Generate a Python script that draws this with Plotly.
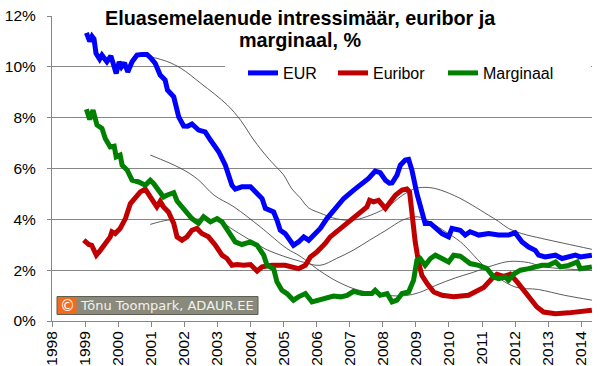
import plotly.graph_objects as go

# ---------------- data ----------------
eur_t = [1999.04, 1999.14, 1999.21, 1999.27, 1999.33, 1999.44, 1999.51, 1999.66, 1999.78, 1999.86,
         1999.94, 2000.03, 2000.10, 2000.19, 2000.29, 2000.42, 2000.57, 2000.72, 2000.87, 2000.97,
         2001.12, 2001.27, 2001.42, 2001.49, 2001.68, 2001.83, 2001.98, 2002.10, 2002.23, 2002.43,
         2002.63, 2002.79, 2003.04, 2003.24, 2003.34, 2003.44, 2003.54, 2003.74, 2004.00, 2004.15,
         2004.35, 2004.45, 2004.70, 2004.80, 2004.90, 2005.05, 2005.20, 2005.30, 2005.45, 2005.61,
         2005.76, 2005.91, 2006.11, 2006.31, 2006.56, 2006.82, 2007.12, 2007.32, 2007.57, 2007.77,
         2007.92, 2008.08, 2008.20, 2008.28, 2008.43, 2008.53, 2008.68, 2008.78, 2008.88, 2009.03,
         2009.18, 2009.28, 2009.44, 2009.59, 2009.79, 2009.99, 2010.09, 2010.34, 2010.49, 2010.64,
         2010.90, 2011.20, 2011.50, 2011.80, 2012.00, 2012.21, 2012.41, 2012.61, 2012.71, 2012.91,
         2013.22, 2013.42, 2013.62, 2013.82, 2013.97, 2014.17, 2014.32]
eur_v = [11.34, 11.00, 11.20, 11.10, 10.53, 10.30, 10.46, 10.20, 10.43, 10.14,
         9.74, 10.20, 10.00, 10.16, 9.80, 10.20, 10.46, 10.49, 10.49, 10.37,
         10.14, 9.68, 9.48, 9.09, 8.82, 8.03, 7.67, 7.66, 7.75, 7.51,
         7.44, 7.12, 6.66, 6.13, 5.70, 5.34, 5.19, 5.28, 5.28, 5.08,
         4.82, 4.43, 4.29, 3.97, 3.57, 3.44, 3.18, 2.98, 3.11, 3.31,
         3.18, 3.38, 3.64, 4.03, 4.43, 4.82, 5.15, 5.34, 5.61, 5.90,
         5.84, 5.54, 5.42, 5.43, 5.74, 6.13, 6.33, 6.36, 5.94, 5.02,
         4.23, 3.84, 3.84, 3.64, 3.44, 3.31, 3.64, 3.57, 3.38, 3.51,
         3.38, 3.44, 3.38, 3.38, 3.47, 3.11, 2.91, 2.78, 2.59, 2.52,
         2.59, 2.46, 2.52, 2.59, 2.52, 2.55, 2.59]

euribor_t = [1998.96, 1999.11, 1999.20, 1999.34, 1999.46, 1999.61, 1999.76, 1999.81, 1999.91, 2000.06,
             2000.22, 2000.37, 2000.52, 2000.67, 2000.82, 2000.92, 2001.07, 2001.17, 2001.27, 2001.37,
             2001.52, 2001.68, 2001.78, 2001.93, 2002.08, 2002.23, 2002.38, 2002.53, 2002.73, 2002.94,
             2003.14, 2003.29, 2003.44, 2003.59, 2003.79, 2004.00, 2004.20, 2004.35, 2004.65, 2005.05,
             2005.45, 2005.66, 2005.81, 2006.01, 2006.16, 2006.26, 2006.41, 2006.72, 2007.02, 2007.32,
             2007.52, 2007.60, 2007.72, 2007.87, 2008.08, 2008.23, 2008.38, 2008.58, 2008.73, 2008.81,
             2008.88, 2008.98, 2009.08, 2009.18, 2009.34, 2009.54, 2009.79, 2010.14, 2010.59, 2010.85,
             2011.05, 2011.30, 2011.45, 2011.65, 2011.85, 2012.06, 2012.26, 2012.46, 2012.66, 2012.86,
             2013.22, 2013.62, 2014.02, 2014.32]
euribor_v = [3.18, 3.01, 2.98, 2.59, 2.78, 3.05, 3.31, 3.51, 3.44, 3.64,
             4.03, 4.62, 4.88, 5.08, 5.19, 4.95, 4.69, 4.49, 4.71, 4.49,
             4.29, 3.84, 3.31, 3.18, 3.31, 3.57, 3.64, 3.44, 3.31, 2.98,
             2.59, 2.46, 2.19, 2.22, 2.19, 2.22, 1.96, 2.13, 2.19, 2.19,
             2.06, 2.19, 2.52, 2.72, 2.90, 3.05, 3.31, 3.64, 3.97, 4.23,
             4.49, 4.75, 4.69, 4.75, 4.43, 4.69, 4.95, 5.15, 5.19, 5.08,
             4.16, 3.11, 2.32, 1.80, 1.47, 1.14, 1.01, 0.95, 1.01, 1.21,
             1.32, 1.67, 1.84, 1.76, 1.84, 1.54, 1.21, 0.95, 0.55, 0.35,
             0.29, 0.32, 0.35, 0.42]

marg_t = [1999.04, 1999.14, 1999.24, 1999.36, 1999.51, 1999.61, 1999.76, 1999.88, 1999.94, 2000.06,
          2000.12, 2000.27, 2000.42, 2000.62, 2000.82, 2000.97, 2001.07, 2001.27, 2001.37, 2001.47,
          2001.68, 2001.78, 2001.93, 2002.08, 2002.23, 2002.43, 2002.58, 2002.79, 2002.99, 2003.14,
          2003.34, 2003.54, 2003.74, 2004.00, 2004.20, 2004.40, 2004.50, 2004.70, 2004.80, 2004.95,
          2005.10, 2005.30, 2005.45, 2005.66, 2005.86, 2006.06, 2006.31, 2006.51, 2006.72, 2006.92,
          2007.12, 2007.37, 2007.67, 2007.77, 2007.92, 2008.13, 2008.28, 2008.43, 2008.58, 2008.78,
          2008.93, 2009.03, 2009.13, 2009.28, 2009.44, 2009.59, 2009.79, 2009.99, 2010.14, 2010.34,
          2010.44, 2010.64, 2010.90, 2011.15, 2011.35, 2011.50, 2011.70, 2011.80, 2011.95, 2012.16,
          2012.41, 2012.61, 2012.81, 2013.01, 2013.22, 2013.37, 2013.62, 2013.88, 2013.97, 2014.32]
marg_v = [8.33, 7.93, 8.30, 7.71, 7.58, 7.18, 6.85, 6.88, 6.46, 6.53,
          6.13, 5.94, 5.54, 5.47, 5.34, 5.54, 5.41, 5.10, 4.88, 4.95,
          5.05, 4.72, 4.49, 4.29, 4.03, 3.84, 4.10, 3.90, 4.03, 3.90,
          3.51, 3.11, 3.01, 3.11, 2.98, 2.59, 2.19, 2.06, 1.54, 1.21,
          1.08, 0.82, 0.95, 1.08, 0.75, 0.82, 0.88, 0.98, 0.95, 1.01,
          1.17, 1.08, 1.08, 1.21, 1.01, 1.08, 0.75, 0.82, 1.08, 1.14,
          1.60, 2.39, 2.46, 2.19, 2.46, 2.59, 2.46, 2.32, 2.59, 2.55,
          2.46, 2.26, 2.19, 2.06, 1.73, 1.67, 1.73, 1.60, 1.84, 2.00,
          2.06, 2.13, 2.19, 2.19, 2.32, 2.13, 2.19, 2.32, 2.06, 2.13]

# thin trend lines (moving averages as drawn in the picture)
eur_ma_t = [2000.97, 2001.5, 2001.9, 2002.5, 2003.3, 2003.7, 2004.1, 2004.5, 2004.75, 2005.0, 2005.25,
            2005.5, 2005.76, 2006.1, 2006.6, 2007.1, 2007.5, 2008.1, 2008.6, 2009.0, 2009.4, 2009.75,
            2010.3, 2010.7, 2011.2, 2011.5, 2011.8, 2012.2, 2012.8, 2013.5, 2014.32]
eur_ma_v = [10.40, 10.20, 9.94, 9.35, 8.50, 7.90, 7.12, 6.46, 6.10, 5.75, 5.20,
            4.85, 4.45, 4.25, 4.02, 3.97, 4.10, 4.45, 4.95, 5.22, 5.25, 5.15,
            4.85, 4.56, 4.16, 3.92, 3.64, 3.44, 3.25, 3.05, 2.82]

marg_ma_t = [2000.97, 2001.9, 2002.4, 2002.9, 2003.5, 2004.3, 2005.1, 2005.5, 2006.0, 2006.5,
             2007.1, 2007.6, 2008.1, 2008.7, 2009.1, 2009.6, 2010.2, 2010.7, 2011.2, 2011.7,
             2011.95, 2012.4, 2012.8, 2013.5, 2014.32]
marg_ma_v = [6.53, 6.00, 5.58, 4.95, 4.49, 3.70, 2.85, 2.55, 2.06, 1.64,
             1.28, 1.12, 1.01, 1.00, 1.12, 1.40, 1.70, 1.90, 2.13, 2.32,
             2.35, 2.30, 2.15, 2.05, 2.00]

euribor_ma_t = [2000.97, 2001.5, 2002.1, 2002.7, 2003.1, 2003.5, 2004.1, 2004.5, 2005.0, 2005.5,
                2006.1, 2006.6, 2007.1, 2007.6, 2008.1, 2008.6, 2009.0, 2009.25, 2009.5, 2009.9,
                2010.35, 2011.2, 2012.0, 2012.7, 2013.5, 2014.32]
euribor_ma_v = [3.80, 3.97, 4.00, 4.00, 3.90, 3.57, 3.10, 2.80, 2.55, 2.35,
                2.19, 2.46, 2.78, 3.18, 3.57, 3.97, 4.10, 4.03, 3.84, 3.51,
                3.11, 2.00, 1.34, 1.24, 1.01, 0.82]

year_ticks = list(range(1998, 2015))
year_labels = [str(y) for y in year_ticks]
pct_ticks = [0, 2, 4, 6, 8, 10, 12]
pct_labels = [f"{v}%" for v in pct_ticks]

# ---------------- layout geometry ----------------
W, H = 600, 366
ML, MR, MT, MB = 52, 8, 16, 45
PW, PH = W - ML - MR, H - MT - MB


def px_x(px):
    return (px - ML) / PW


def px_y(py):
    return (H - MB - py) / PH


FONT = "Liberation Sans, Arial, sans-serif"
GRID = "#868686"

fig = go.Figure()

for t, v in [(eur_ma_t, eur_ma_v), (euribor_ma_t, euribor_ma_v), (marg_ma_t, marg_ma_v)]:
    fig.add_trace(go.Scatter(x=t, y=v, mode="lines", showlegend=False, hoverinfo="skip",
                             line=dict(color="#4a4a4a", width=0.9, shape="spline", smoothing=1.0)))

fig.add_trace(go.Scatter(x=euribor_t, y=euribor_v, mode="lines", name="Euribor", legend="legend2",
                         line=dict(color="#C00000", width=5)))
fig.add_trace(go.Scatter(x=marg_t, y=marg_v, mode="lines", name="Marginaal", legend="legend3",
                         line=dict(color="#008000", width=5)))
fig.add_trace(go.Scatter(x=eur_t, y=eur_v, mode="lines", name="EUR", legend="legend",
                         line=dict(color="#0000FF", width=5)))

leg_common = dict(orientation="h", xanchor="left", yanchor="middle", bgcolor="rgba(0,0,0,0)",
                  font=dict(family=FONT, size=16, color="#000"), itemwidth=30)

fig.update_layout(
    width=W, height=H,
    margin=dict(l=ML, r=MR, t=MT, b=MB, autoexpand=False),
    paper_bgcolor="white", plot_bgcolor="white",
    font=dict(family=FONT, color="#000"),
    legend=dict(x=px_x(243), y=px_y(73), **leg_common),
    legend2=dict(x=px_x(333), y=px_y(73), **leg_common),
    legend3=dict(x=px_x(443), y=px_y(73), **leg_common),
    xaxis=dict(range=[1998, 1998 + PW / 33.08], tickmode="array", tickvals=year_ticks,
               ticktext=year_labels, tickangle=-90, showgrid=False, zeroline=False,
               showline=True, linecolor=GRID, linewidth=1, ticks="outside", ticklen=5,
               tickcolor=GRID, automargin=False, ticklabelstandoff=-2,
               tickfont=dict(family=FONT, size=15.5, color="#000")),
    yaxis=dict(range=[0, 12], tickmode="array", tickvals=pct_ticks, ticktext=pct_labels,
               showgrid=True, gridcolor=GRID, gridwidth=1, zeroline=False,
               showline=True, linecolor=GRID, linewidth=1, ticks="outside", ticklen=4,
               tickcolor=GRID, ticklabelstandoff=8, automargin=False,
               tickfont=dict(family=FONT, size=15.5, color="#000")),
    showlegend=True,
)

# white box behind legend (hides the 10% gridline like the reference)
fig.add_shape(type="rect", xref="paper", yref="paper", x0=px_x(225), x1=px_x(591),
              y0=px_y(88), y1=px_y(58), fillcolor="white", line=dict(width=0), layer="above")

# title (two lines, white background)
fig.add_annotation(xref="paper", yref="paper", x=px_x(300), y=px_y(18), xanchor="center",
                   yanchor="middle", showarrow=False, bgcolor="white", borderpad=1,
                   text="<b>Eluasemelaenude intressimäär, euribor ja</b>",
                   font=dict(family=FONT, size=19.8, color="#000"))
fig.add_annotation(xref="paper", yref="paper", x=px_x(300), y=px_y(40), xanchor="center",
                   yanchor="middle", showarrow=False, bgcolor="white", borderpad=1,
                   text="<b>marginaal, %</b>",
                   font=dict(family=FONT, size=19.8, color="#000"))

# watermark
fig.add_shape(type="rect", xref="paper", yref="paper", x0=px_x(57), x1=px_x(258),
              y0=px_y(314.5), y1=px_y(296.5), fillcolor="#8a8a7c",
              line=dict(color="#5e5e54", width=1), layer="above")
fig.add_shape(type="rect", xref="paper", yref="paper", x0=px_x(58), x1=px_x(76.5),
              y0=px_y(313.5), y1=px_y(297.5), fillcolor="#F26B1D",
              line=dict(width=0), layer="above")
fig.add_annotation(xref="paper", yref="paper", x=px_x(67.2), y=px_y(305.5), xanchor="center",
                   yanchor="middle", showarrow=False, text="©",
                   font=dict(family="DejaVu Sans, sans-serif", size=15, color="white"))
fig.add_annotation(xref="paper", yref="paper", x=px_x(78), y=px_y(305.8), xanchor="left",
                   yanchor="middle", showarrow=False, text="Tõnu Toompark, ADAUR.EE",
                   font=dict(family="DejaVu Sans, sans-serif", size=13, color="#f2f2ee"))

fig.write_html("out.html", config={"displayModeBar": False},
               post_script="document.body.style.margin='0px';document.body.style.overflow='hidden';")
